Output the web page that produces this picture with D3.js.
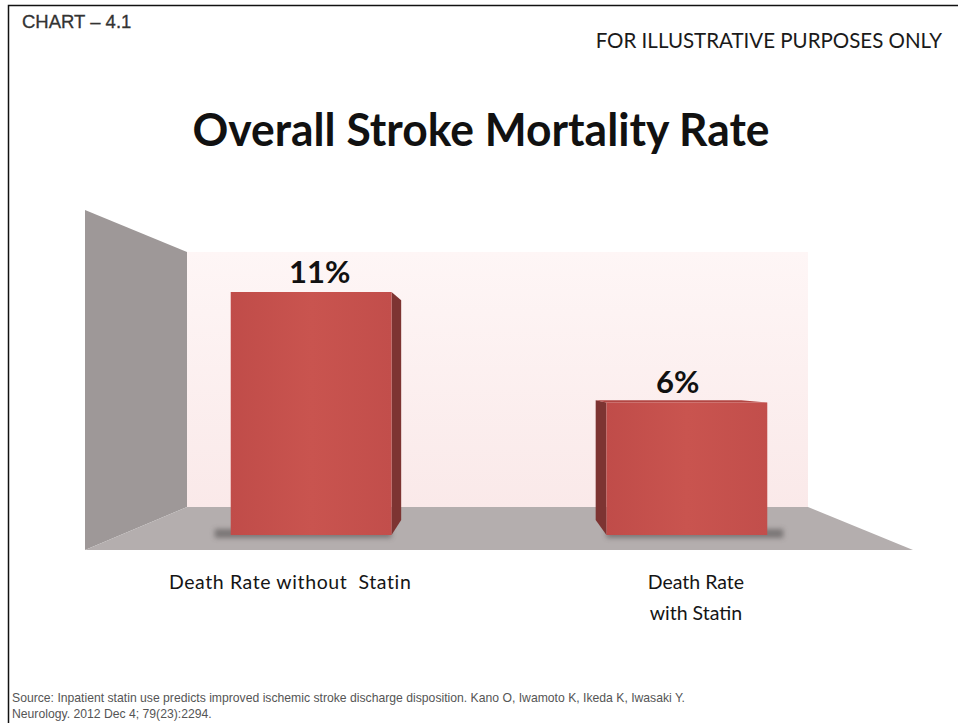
<!DOCTYPE html>
<html>
<head>
<meta charset="utf-8">
<script src="https://cdn.jsdelivr.net/npm/d3@7/dist/d3.min.js"></script>
<style>
  body { margin: 0; background: #fff; }
  svg { display: block; }
  text { white-space: pre; }
</style>
</head>
<body>
<div id="chart"></div>
<script>
// chart data
const categories = ["Death Rate without  Statin", "Death Rate with Statin"];
const categoryLines = [["Death Rate without  Statin"], ["Death Rate", "with Statin"]];
const values = [11, 6];
const valueLabels = ["11%", "6%"];

const chartTag = "CHART \u2013 4.1";
const disclaimer = "FOR ILLUSTRATIVE PURPOSES ONLY";
const title = "Overall Stroke Mortality Rate";
const sourceLines = [
  "Source: Inpatient statin use predicts improved ischemic stroke discharge disposition. Kano O, Iwamoto K, Ikeda K, Iwasaki Y.",
  "Neurology. 2012 Dec 4; 79(23):2294."
];

let dim = { width: 958, height: 723 };

// room geometry (front plane of the 3d box)
let room = { left: 85, right: 913, floorY: 550, wallTop: 210, depth: 0.25 };
let vp = [493, 378];   // vanishing point
let barDepth = 0.095;

let svg = d3.select("#chart")
            .append("svg")
            .attr("width", dim.width)
            .attr("height", dim.height);

let defs = svg.append("defs");

let wallGrad = defs.append("linearGradient")
    .attr("id", "wallGrad").attr("x1", 0).attr("y1", 0).attr("x2", 0).attr("y2", 1);
wallGrad.append("stop").attr("offset", "0%").attr("stop-color", "#fef6f6");
wallGrad.append("stop").attr("offset", "100%").attr("stop-color", "#fae9e9");

let barGrad = defs.append("linearGradient")
    .attr("id", "barGrad").attr("x1", 0).attr("y1", 0).attr("x2", 1).attr("y2", 0);
barGrad.append("stop").attr("offset", "0%").attr("stop-color", "#c04c49");
barGrad.append("stop").attr("offset", "50%").attr("stop-color", "#c9544f");
barGrad.append("stop").attr("offset", "100%").attr("stop-color", "#c24e4b");

defs.append("filter").attr("id", "blur")
    .attr("x", "-20%").attr("y", "-100%").attr("width", "140%").attr("height", "300%")
    .append("feGaussianBlur").attr("stdDeviation", 2.5);

function proj(p, f) {
    return [vp[0] + (p[0] - vp[0]) * (1 - f), vp[1] + (p[1] - vp[1]) * (1 - f)];
}

let poly = d3.line();

// frame lines
svg.append("path")
   .attr("d", `M8.5,${dim.height} V5.5 H${dim.width}`)
   .attr("fill", "none").attr("stroke", "#111").attr("stroke-width", 1.5);

// back wall
let bTL = proj([room.left, room.wallTop], room.depth);
let bBR = proj([room.right, room.floorY], room.depth);
svg.append("rect")
   .attr("x", bTL[0]).attr("y", bTL[1])
   .attr("width", bBR[0] - bTL[0]).attr("height", bBR[1] - bTL[1])
   .attr("fill", "url(#wallGrad)");

// side wall
let fTL = [room.left, room.wallTop], fBL = [room.left, room.floorY];
svg.append("path")
   .attr("d", poly([fTL, proj(fTL, room.depth), proj(fBL, room.depth), fBL]) + "Z")
   .attr("fill", "#9e9898");

// floor
let fBR = [room.right, room.floorY];
svg.append("path")
   .attr("d", poly([fBL, fBR, proj(fBR, room.depth), proj(fBL, room.depth)]) + "Z")
   .attr("fill", "#b4aeae");

// scales
let scaleX = d3.scaleBand()
               .domain(categories)
               .range([118, 880])
               .paddingInner(0.572)
               .paddingOuter(0.3);

let scaleY = d3.scaleLinear()
               .domain([0, 11])
               .range([535, 292]);

let bars = categories.map((c, i) => ({
    cat: c, value: values[i], label: valueLabels[i], lines: categoryLines[i],
    x0: scaleX(c), x1: scaleX(c) + scaleX.bandwidth(),
    y0: scaleY(values[i]), y1: scaleY(0)
}));
bars.forEach(d => {
    d.cx = (d.x0 + d.x1) / 2;
    d.leftOfEye = d.cx < vp[0];
    // centre of the top face, between front edge and back edge
    d.topCx = (d.cx + proj([d.cx, d.y0], barDepth)[0]) / 2;
});

// base shadows, thrown away from the eye line
svg.append("g").selectAll("rect")
   .data(bars)
   .join("rect")
   .attr("x", d => d.leftOfEye ? d.x0 - 16 : d.x0)
   .attr("y", d => d.y1 - 6)
   .attr("width", d => d.x1 - d.x0 + 16)
   .attr("height", 9)
   .attr("fill", "#4e4a4a")
   .attr("opacity", 0.55)
   .attr("filter", "url(#blur)");

let gBars = svg.append("g");

bars.forEach(d => {
    let edge = d.leftOfEye ? d.x1 : d.x0;
    let top = [edge, d.y0], bot = [edge, d.y1];
    // side face
    gBars.append("path")
         .attr("d", poly([top, proj(top, barDepth), proj(bot, barDepth), bot]) + "Z")
         .attr("fill", "#7d3432");
    // top face, visible when below the eye line
    if (d.y0 > vp[1]) {
        let tl = [d.x0, d.y0], tr = [d.x1, d.y0];
        gBars.append("path")
             .attr("d", poly([tl, tr, proj(tr, barDepth), proj(tl, barDepth)]) + "Z")
             .attr("fill", "#b24643");
    }
    // front face
    gBars.append("rect")
         .attr("x", d.x0).attr("y", d.y0)
         .attr("width", d.x1 - d.x0).attr("height", d.y1 - d.y0)
         .attr("fill", "url(#barGrad)");
});

// value labels
svg.append("g").selectAll("text")
   .data(bars)
   .join("text")
   .attr("x", d => d.topCx)
   .attr("y", d => d.y0 - 9)
   .attr("text-anchor", "middle")
   .attr("font-family", "Lato, 'Open Sans', sans-serif")
   .attr("font-weight", 700)
   .attr("font-size", 31)
   .attr("fill", "#111")
   .text(d => d.label);

// category labels
let labelShift = [-21, 9];
let gCat = svg.append("g")
   .attr("font-family", "Lato, 'Open Sans', sans-serif")
   .attr("font-size", 19.5)
   .attr("fill", "#151515");

bars.forEach((d, i) => {
    let t = gCat.append("text")
        .attr("x", d.cx + labelShift[i])
        .attr("y", 589)
        .attr("text-anchor", "middle")
        .attr("letter-spacing", i === 0 ? 0.6 : 0);
    t.selectAll("tspan")
     .data(d.lines)
     .join("tspan")
     .attr("x", d.cx + labelShift[i])
     .attr("dy", (l, j) => j === 0 ? 0 : 31)
     .text(l => l);
});

// headings
svg.append("text")
   .attr("x", 22).attr("y", 28)
   .attr("font-family", "'Liberation Sans', Arial, sans-serif")
   .attr("font-size", 18.5)
   .attr("fill", "#333")
   .attr("stroke", "#333")
   .attr("stroke-width", 0.3)
   .text(chartTag);

svg.append("text")
   .attr("x", 942).attr("y", 48)
   .attr("text-anchor", "end")
   .attr("font-family", "Lato, 'Open Sans', sans-serif")
   .attr("font-size", 20.5)
   .attr("fill", "#1a1a1a")
   .text(disclaimer);

let titleText = svg.append("text")
   .attr("x", 481).attr("y", 146)
   .attr("text-anchor", "middle")
   .attr("font-family", "Lato, 'Open Sans', sans-serif")
   .attr("font-weight", 700)
   .attr("font-size", 45)
   .attr("fill", "#111")
   .text(title);

function fit(sel, w) {
    let len = sel.node().getComputedTextLength();
    if (Math.abs(len - w) > 4) {
        sel.attr("textLength", w).attr("lengthAdjust", "spacingAndGlyphs");
    }
}
fit(titleText, 577);

// source note
svg.append("g")
   .attr("font-family", "'Liberation Sans', Arial, sans-serif")
   .attr("font-size", 12.2)
   .attr("fill", "#555")
   .selectAll("text")
   .data(sourceLines)
   .join("text")
   .attr("x", 12)
   .attr("y", (d, i) => 702 + i * 16)
   .text(d => d);
</script>
</body>
</html>
